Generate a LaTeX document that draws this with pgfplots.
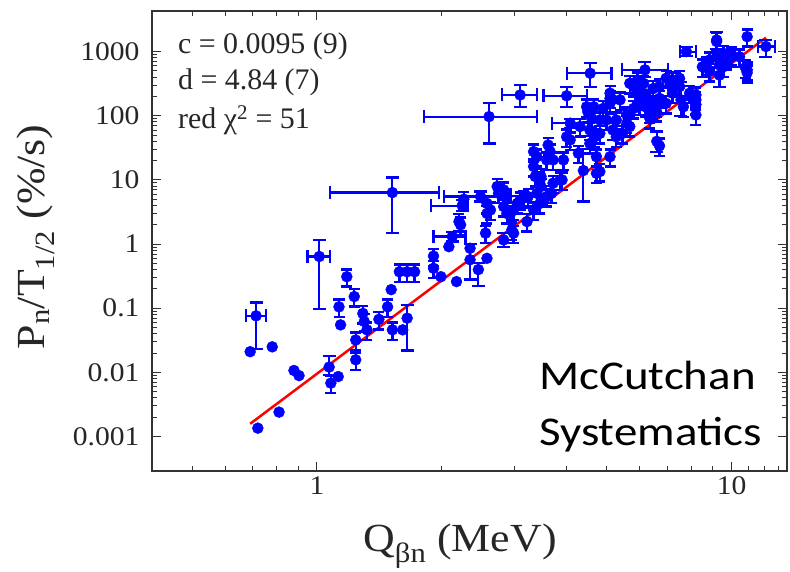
\documentclass[border=0pt]{standalone}
\usepackage{pgfplots}
\usepackage{pgfplotstable}
\pgfplotsset{compat=1.18}
\usepackage{fontspec}
\setmainfont{Liberation Serif}
\newfontfamily\wideserif[FakeStretch=1.1]{Liberation Serif}
\newfontfamily\calibri[FakeStretch=1.15]{Carlito}

\definecolor{ptblue}{RGB}{0,0,255}
\definecolor{fitred}{RGB}{255,0,0}

% isolated points, no visible error bars
\pgfplotstableread{
x y
0.69 0.021
0.78 0.025
0.88 0.0107
0.905 0.0089
0.81 0.0024
0.72 0.00135
1.125 0.0086
1.14 0.055
1.51 0.195
1.61 0.046
1.99 0.31
2.17 0.26
2.08 0.91
2.34 0.57
2.57 0.60
}\plainpts

% points with small symmetric error bars
\pgfplotstableread{
x y
1.08 0.0068
1.13 0.105
1.18 0.31
1.23 0.152
1.29 0.083
1.30 0.062
1.32 0.046
1.24 0.032
1.24 0.0157
1.41 0.067
1.48 0.105
1.52 0.046
1.58 0.37
1.65 0.37
1.72 0.37
1.91 0.65
1.91 0.42
2.20 2.24
2.22 2.0
2.26 5.0
2.57 4.3
2.62 3.4
2.57 3.0
2.72 7.9
2.74 6.2
2.55 1.48
2.87 3.0
2.98 3.4
3.04 4.3
3.15 5.2
3.23 5.5
3.39 6.2
2.95 1.66
2.98 1.48
3.21 2.24
3.33 3.4
3.45 4.3
3.71 8.9
3.86 10
2.82 7.0
2.87 5.5
2.82 3.84
2.93 3.0
3.09 4.88
3.39 11.3
3.47 11.3
3.58 5.5
3.65 27.6
3.71 20.5
3.61 35
3.90 10
3.93 20.5
4.00 47
4.08 42
4.27 26
4.55 37
4.68 47
4.81 53
4.81 86
4.99 86
4.81 13.5
5.09 23
5.17 60
5.27 47
4.65 138
4.90 130
5.38 177
6.00 177
6.20 138
6.35 110
5.80 285
6.13 320
6.70 285
6.95 156
7.20 225
5.27 86
5.59 76.6
5.09 156
4.55 60
4.31 68
4.72 23
3.33 27.6
3.39 23
3.58 20.5
3.36 11.3
3.45 10
3.68 6.2
3.33 16.2
4.72 12.7
5.45 53
5.68 68
5.09 187
5.68 320
5.93 362
6.13 225
6.35 177
6.59 138
7.20 362
7.49 285
7.92 225
8.20 177
7.65 138
8.20 211
8.20 150
8.20 103
8.50 580
8.85 742
9.20 830
9.55 940
9.70 742
9.55 580
10.0 890
10.45 830
10.9 518
10.9 1710
9.20 1520
5.59 103
5.80 130
5.93 238
6.00 147
6.23 187
6.47 266
6.70 187
6.95 384
7.20 303
7.49 384
6.59 116
6.35 91
9.35 620
9.70 790
10.0 830
8.68 620
8.85 490
10.8 560
10.9 470
4.50 115
4.60 90
4.47 138
5.09 225
3.47 7.9
6.70 34
}\cappedpts

% points with larger vertical uncertainties: value, lower and upper limit
\pgfplotstableread{
x y ylo yhi
1.07 0.0121 0.0090 0.0181
1.65 0.070 0.022 0.113
2.34 0.86 0.28 1.0
2.45 0.40 0.22 0.50
2.82 1.16 0.91 1.48
4.39 14 4.6 30
6.60 40 27.6 57
9.35 430 283 560
7.55 177 98 340
9.20 1440 1100 2050
}\yerrpts

% points with uncertainties in both Q and Pn/T
\pgfplotstableread{
x y xlo xhi ylo yhi
0.713 0.076 0.675 0.754 0.023 0.1225
1.013 0.64 0.949 1.076 0.097 1.16
1.52 6.35 1.076 1.97 1.48 10.9
2.60 97 1.81 3.39 37 158
3.09 211 2.79 3.39 139 302
4.00 205 3.52 4.47 139 285
4.56 460 4.00 5.13 285 660
4.08 76.6 3.69 4.51 65 90
6.18 519 5.43 7.03 400 680
7.78 1000 7.50 8.20 850 1170
12.1 1200 11.6 12.7 830 1520
2.12 1.31 1.91 2.28 1.10 1.55
2.24 3.98 1.88 2.31 3.30 4.80
2.48 5.5 2.02 2.93 4.60 6.60
}\xyerrpts

\begin{document}
\begin{tikzpicture}
\begin{axis}[
  at={(0,0)}, anchor=south west,
  scale only axis, width=635bp, height=460bp,
  xmode=log, ymode=log,
  xmin=0.4, xmax=13.6, ymin=2.9e-4, ymax=4300,
  xtick={1,10}, xticklabels={1,10},
  minor xtick={0.5,0.6,0.7,0.8,0.9,2,3,4,5,6,7,8,9,11,12,13},
  ytick={0.001,0.01,0.1,1,10,100,1000},
  yticklabels={0.001,0.01,0.1,1,10,100,1000},
  tick align=inside,
  major tick length=9bp, minor tick length=5bp,
  every tick/.style={line width=1bp, black!80},
  axis line style={line width=1.5bp, black!80},
  tick label style={font=\wideserif\fontsize{27}{30}\selectfont, text=black!85},
  yticklabel style={xshift=-9bp},
  xticklabel style={yshift=-2bp},
  xlabel={Q\textsubscript{βn} (MeV)},
  ylabel={P\textsubscript{n}/T\textsubscript{1/2} (\%/s)},
  label style={font=\wideserif\fontsize{40}{44}\selectfont, text=black!85},
  xlabel style={at={(axis description cs:0.485,-0.1739)}, anchor=base},
  ylabel style={at={(axis description cs:-0.1685,0.509)}, anchor=base},
  clip=false,
]
% Pn/T1/2 = c * Q^d with c = 0.0095, d = 4.84
\addplot[fitred, line width=2.5bp, no marks] coordinates {(0.69,0.00158) (12.1,1653)};

\addplot[only marks, mark=*, mark size=5.5bp, ptblue, mark options={draw=ptblue, fill=ptblue}]
  table[x=x, y=y] {\plainpts};

\addplot[only marks, mark=*, mark size=5.5bp, ptblue, mark options={draw=ptblue, fill=ptblue},
  error bars/.cd, y dir=both, y fixed relative=0.3,
  error bar style={line width=2.4bp, ptblue},
  error mark options={rotate=90, mark size=5.5bp, line width=2.4bp, ptblue}]
  table[x=x, y=y] {\cappedpts};

\addplot[only marks, mark=*, mark size=5.5bp, ptblue, mark options={draw=ptblue, fill=ptblue},
  error bars/.cd, y dir=both, y explicit,
  error bar style={line width=2.2bp, ptblue},
  error mark options={rotate=90, mark size=6.5bp, line width=2.2bp, ptblue}]
  table[x=x, y=y,
    y error plus expr=\thisrow{yhi}-\thisrow{y},
    y error minus expr=\thisrow{y}-\thisrow{ylo}] {\yerrpts};

\addplot[only marks, mark=*, mark size=5.5bp, ptblue, mark options={draw=ptblue, fill=ptblue},
  error bars/.cd, x dir=both, x explicit, y dir=both, y explicit,
  error bar style={line width=2.2bp, ptblue},
  error mark options={rotate=90, mark size=6.5bp, line width=2.2bp, ptblue}]
  table[x=x, y=y,
    x error plus expr=\thisrow{xhi}-\thisrow{x},
    x error minus expr=\thisrow{x}-\thisrow{xlo},
    y error plus expr=\thisrow{yhi}-\thisrow{y},
    y error minus expr=\thisrow{y}-\thisrow{ylo}] {\xyerrpts};
\end{axis}

% fit parameters
\begin{scope}[every node/.style={anchor=base west, inner sep=0pt, text=black!85,
    font=\fontsize{30}{34}\selectfont}]
  \node at (26bp,417.7bp) {c = 0.0095 (9)};
  \node at (26bp,381bp) {d = 4.84 (7)};
  \node at (26bp,342.7bp) {red χ\textsuperscript{2} = 51};
\end{scope}

\begin{scope}[every node/.style={anchor=base west, inner sep=0pt,
    font=\calibri\fontsize{41}{50}\selectfont}]
  \node at (387bp,81bp) {McCutchan};
  \node at (387bp,25.5bp) {Systematics};
\end{scope}

\pgfresetboundingbox
\useasboundingbox (-152bp,-101bp) rectangle (638bp,471bp);
\end{tikzpicture}
\end{document}
